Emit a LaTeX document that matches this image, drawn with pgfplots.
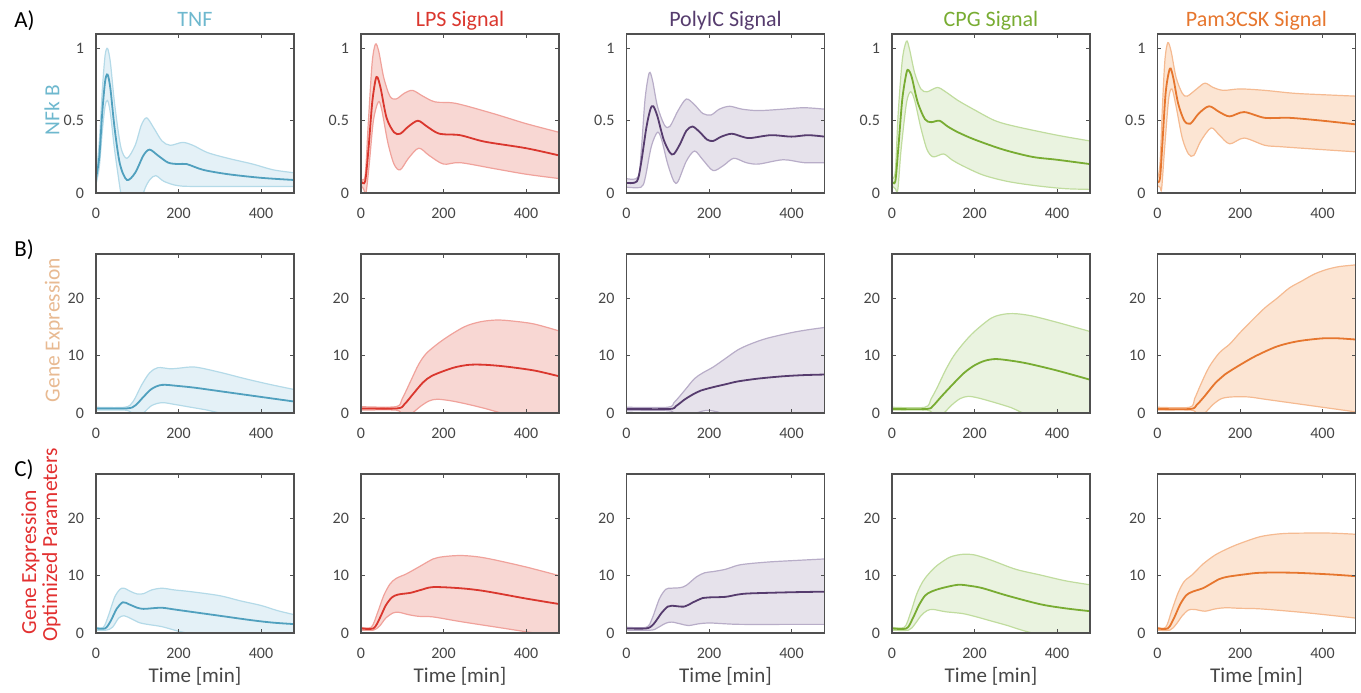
\documentclass[border=0pt]{standalone}
\usepackage{fontspec}
\setmainfont{Carlito}
\usepackage{pgfplots}
\pgfplotsset{compat=1.18}
\usepgfplotslibrary{fillbetween}

% series colours: line, band edge, band fill
\definecolor{tnf}{RGB}{80,160,190}
\definecolor{tnfband}{RGB}{180,218,232}
\definecolor{tnffill}{RGB}{228,241,247}
\definecolor{tnftitle}{RGB}{110,184,206}
\definecolor{lps}{RGB}{218,55,46}
\definecolor{lpsband}{RGB}{240,162,155}
\definecolor{lpsfill}{RGB}{248,215,211}
\definecolor{poly}{RGB}{86,60,110}
\definecolor{polyband}{RGB}{184,173,200}
\definecolor{polyfill}{RGB}{230,226,235}
\definecolor{cpg}{RGB}{120,172,50}
\definecolor{cpgband}{RGB}{192,220,158}
\definecolor{cpgfill}{RGB}{234,243,224}
\definecolor{pam}{RGB}{230,118,46}
\definecolor{pamband}{RGB}{245,186,145}
\definecolor{pamfill}{RGB}{252,229,211}
\definecolor{axgray}{RGB}{80,80,80}
\definecolor{lblgray}{RGB}{70,70,70}
\definecolor{genetan}{RGB}{232,186,146}
\definecolor{optred}{RGB}{226,48,48}

\pgfplotsset{
  panel/.style={
    scale only axis, width=99pt, height=79.5pt,
    xmin=0, xmax=480, ymin=0,
    xtick={0,200,400},
    axis line style={draw=axgray, line width=0.65pt},
    major tick style={draw=axgray, line width=0.5pt},
    major tick length=1.8pt,
    tick label style={font=\fontsize{8}{9.5}\selectfont, text=lblgray},
    xticklabel style={yshift=-4pt},
    yticklabel style={xshift=-2.5pt},
    /pgf/number format/assume math mode=true,
    axis on top,
  },
  rowA/.style={ymax=1.1, ytick={0,0.5,1}},
  rowB/.style={ymax=27.7, ytick={0,10,20}},
}

% #1 left, #2 bottom, #3 colour, #4 row style, #5 mean, #6 upper, #7 lower
\newcommand\panel[7]{%
  \begin{axis}[panel, #4, at={(#1,#2)}]
    \addplot[draw=none, smooth, name path=up] coordinates {#6};
    \addplot[draw=none, smooth, name path=lo] coordinates {#7};
    \addplot[fill=#3fill, draw=none] fill between[of=up and lo];
    \addplot[draw=#3band, line width=0.6pt, smooth] coordinates {#6};
    \addplot[draw=#3band, line width=0.6pt, smooth] coordinates {#7};
    \addplot[draw=#3, line width=0.9pt, smooth] coordinates {#5};
  \end{axis}}

\begin{document}
\begin{tikzpicture}
\path (0,0) rectangle (680.5pt,343.5pt);

% ---------- row A: NFkB ----------
\panel{48pt}{247pt}{tnf}{rowA}
 {(0,0.1) (8,0.25) (15,0.55) (22,0.77) (28,0.82) (35,0.72) (45,0.45) (58,0.2) (75,0.09) (95,0.14) (115,0.26) (130,0.3) (150,0.26) (175,0.21) (200,0.2) (220,0.2) (260,0.16) (320,0.13) (400,0.105) (480,0.09)}
 {(0,0.12) (8,0.35) (15,0.7) (22,0.95) (28,1.0) (35,0.9) (45,0.62) (60,0.32) (75,0.24) (95,0.33) (110,0.47) (123,0.52) (140,0.45) (160,0.36) (180,0.33) (210,0.35) (235,0.33) (270,0.28) (320,0.24) (380,0.2) (430,0.16) (480,0.14)}
 {(0,0.06) (8,0.18) (15,0.42) (22,0.6) (28,0.64) (35,0.55) (45,0.3) (60,0.0) (75,-0.25) (95,-0.25) (115,0.0) (130,0.09) (145,0.12) (165,0.08) (200,0.05) (260,0.045) (480,0.045)}
\panel{180.5pt}{247pt}{lps}{rowA}
 {(0,0.08) (10,0.08) (18,0.3) (27,0.62) (35,0.78) (40,0.8) (48,0.72) (62,0.52) (80,0.42) (95,0.41) (115,0.46) (138,0.5) (160,0.46) (190,0.41) (240,0.4) (300,0.355) (400,0.31) (480,0.26)}
 {(0,0.1) (10,0.12) (18,0.5) (27,0.9) (35,1.03) (43,0.98) (55,0.8) (70,0.67) (85,0.65) (105,0.69) (125,0.71) (150,0.67) (180,0.63) (230,0.62) (320,0.55) (400,0.48) (480,0.42)}
 {(0,0.05) (6,0.03) (12,0.0) (20,0.2) (30,0.5) (42,0.63) (50,0.58) (65,0.35) (80,0.2) (95,0.16) (115,0.24) (140,0.31) (165,0.26) (200,0.2) (240,0.21) (320,0.17) (400,0.13) (480,0.1)}
\panel{313.25pt}{247pt}{poly}{rowA}
 {(0,0.07) (25,0.08) (35,0.2) (48,0.45) (58,0.58) (65,0.6) (75,0.53) (90,0.37) (105,0.28) (115,0.27) (130,0.34) (145,0.43) (160,0.46) (178,0.42) (195,0.37) (210,0.36) (230,0.39) (255,0.41) (280,0.39) (300,0.38) (350,0.4) (400,0.39) (440,0.4) (480,0.39)}
 {(0,0.1) (28,0.11) (36,0.3) (45,0.65) (55,0.83) (63,0.78) (75,0.6) (92,0.47) (105,0.46) (125,0.57) (145,0.65) (165,0.61) (185,0.55) (205,0.54) (225,0.58) (250,0.6) (280,0.58) (320,0.57) (380,0.58) (430,0.59) (480,0.58)}
 {(0,0.04) (35,0.04) (45,0.1) (60,0.32) (75,0.42) (85,0.37) (100,0.2) (115,0.08) (125,0.08) (145,0.22) (165,0.29) (185,0.23) (210,0.155) (235,0.19) (260,0.24) (290,0.21) (320,0.2) (380,0.23) (430,0.21) (480,0.21)}
\panel{446pt}{247pt}{cpg}{rowA}
 {(0,0.08) (8,0.08) (15,0.3) (25,0.65) (35,0.83) (40,0.85) (48,0.8) (62,0.63) (80,0.51) (95,0.49) (115,0.5) (135,0.46) (160,0.42) (200,0.37) (270,0.3) (340,0.25) (400,0.23) (480,0.2)}
 {(0,0.1) (8,0.15) (15,0.55) (25,0.92) (35,1.05) (42,1.0) (55,0.83) (70,0.72) (85,0.7) (110,0.73) (130,0.7) (160,0.64) (200,0.575) (250,0.5) (300,0.46) (400,0.4) (480,0.36)}
 {(0,0.05) (8,0.03) (14,0.02) (22,0.3) (35,0.62) (45,0.7) (55,0.64) (70,0.45) (85,0.3) (100,0.25) (125,0.27) (145,0.23) (170,0.19) (220,0.125) (280,0.08) (350,0.05) (420,0.03) (480,0.025)}
\panel{578.75pt}{247pt}{pam}{rowA}
 {(0,0.08) (6,0.1) (12,0.35) (20,0.7) (30,0.86) (38,0.8) (50,0.62) (65,0.5) (80,0.48) (100,0.55) (125,0.6) (150,0.56) (175,0.53) (210,0.56) (260,0.52) (320,0.52) (400,0.5) (480,0.475)}
 {(0,0.1) (6,0.2) (12,0.6) (18,0.92) (25,1.04) (33,0.98) (45,0.8) (60,0.69) (72,0.67) (95,0.72) (115,0.76) (135,0.73) (160,0.71) (200,0.72) (260,0.71) (330,0.69) (400,0.68) (480,0.67)}
 {(0,0.05) (6,0.04) (10,0.03) (17,0.3) (27,0.65) (35,0.72) (45,0.6) (60,0.38) (75,0.27) (88,0.26) (105,0.36) (130,0.45) (150,0.4) (175,0.34) (210,0.38) (260,0.33) (300,0.32) (400,0.3) (480,0.285)}

% ---------- row B: gene expression ----------
\panel{48pt}{137pt}{tnf}{rowB}
 {(0,0.8) (75,0.8) (95,1.3) (115,2.8) (135,4.2) (160,4.9) (200,4.7) (240,4.4) (300,3.8) (380,3.0) (430,2.5) (480,2.0)}
 {(0,1.0) (70,1.0) (90,2.0) (110,4.8) (130,7.0) (150,7.9) (180,7.7) (200,7.8) (240,8.0) (300,7.1) (360,6.0) (420,5.0) (480,4.1)}
 {(0,0.5) (70,0.5) (85,0.1) (100,-0.5) (115,0.0) (135,1.3) (160,1.8) (190,1.5) (230,1.0) (270,0.5) (300,0.0) (360,-0.8) (480,-2)}
\panel{180.5pt}{137pt}{lps}{rowB}
 {(0,0.8) (88,0.8) (105,1.5) (125,3.2) (150,5.3) (170,6.4) (200,7.3) (230,8.0) (263,8.4) (300,8.4) (350,8.1) (420,7.4) (480,6.4)}
 {(0,1.1) (85,1.1) (100,2.5) (120,5.5) (140,8.5) (160,10.5) (200,12.8) (250,15.0) (290,15.9) (330,16.2) (370,16.0) (420,15.5) (480,14.3)}
 {(0,0.5) (85,0.5) (100,-0.3) (115,-0.6) (125,0.0) (145,1.2) (165,2.1) (185,2.4) (220,2.1) (260,1.5) (300,0.8) (340,0.0) (400,-1) (480,-2)}
\panel{313.25pt}{137pt}{poly}{rowB}
 {(0,0.7) (104,0.7) (120,1.2) (140,2.3) (160,3.2) (180,3.9) (210,4.5) (240,5.0) (270,5.5) (320,6.0) (380,6.4) (430,6.6) (480,6.7)}
 {(0,1.0) (100,1.0) (115,1.8) (130,3.0) (145,4.3) (165,6.0) (185,7.0) (210,8.0) (240,9.5) (270,11.0) (300,12.0) (340,13.0) (400,14.0) (440,14.5) (480,14.9)}
 {(0,0.4) (100,0.4) (115,0.0) (135,-0.5) (160,-0.2) (185,0.35) (200,0.45) (220,0.2) (245,-0.4) (300,-1.5) (400,-3) (480,-4)}
\panel{446pt}{137pt}{cpg}{rowB}
 {(0,0.7) (84,0.7) (100,1.3) (120,2.9) (150,5.2) (175,7.0) (200,8.3) (225,9.1) (252,9.4) (290,9.1) (330,8.6) (400,7.4) (480,5.8)}
 {(0,1.0) (80,1.0) (95,2.5) (110,4.5) (130,7.5) (150,10.0) (175,12.3) (200,14.2) (240,16.5) (270,17.2) (300,17.3) (340,16.9) (400,15.8) (480,14.2)}
 {(0,0.5) (85,0.5) (100,-0.3) (115,-0.5) (126,0.0) (145,1.4) (165,2.5) (185,2.9) (210,2.6) (250,1.8) (290,0.9) (318,0.0) (380,-1.5) (480,-3)}
\panel{578.75pt}{137pt}{pam}{rowB}
 {(0,0.7) (80,0.7) (95,1.4) (115,3.0) (140,5.2) (165,6.8) (180,7.5) (210,8.8) (240,10.0) (290,11.6) (340,12.5) (400,13.0) (440,13.0) (480,12.8)}
 {(0,1.0) (78,1.0) (90,2.5) (105,5.0) (125,8.0) (150,10.5) (175,12.0) (200,14.0) (230,16.2) (260,18.3) (290,20.0) (320,21.8) (350,23.0) (380,24.2) (410,25.0) (440,25.5) (480,25.8)}
 {(0,0.5) (82,0.5) (95,-0.2) (105,-0.4) (115,0.0) (135,1.5) (155,2.5) (180,2.8) (220,2.8) (260,2.4) (300,2.0) (350,1.5) (400,1.0) (440,0.6) (480,0.2)}

% ---------- row C: optimized parameters ----------
\panel{48pt}{27pt}{tnf}{rowB}
 {(0,0.8) (22,0.8) (35,2.0) (50,4.2) (65,5.35) (80,5.0) (100,4.4) (115,4.2) (135,4.3) (160,4.4) (190,4.1) (220,3.8) (300,3.0) (380,2.2) (430,1.8) (480,1.55)}
 {(0,1.0) (18,1.0) (30,3.0) (45,6.2) (58,7.6) (68,7.8) (85,7.2) (100,6.8) (115,6.85) (135,7.5) (160,7.8) (190,7.5) (230,7.2) (300,6.5) (350,5.6) (400,4.8) (440,3.9) (480,3.2)}
 {(0,0.5) (25,0.5) (40,1.0) (55,2.6) (68,3.0) (85,2.5) (105,1.8) (125,1.5) (160,1.1) (200,0.3) (220,0.0) (260,-0.5) (480,-2)}
\panel{180.5pt}{27pt}{lps}{rowB}
 {(0,0.8) (30,0.8) (45,2.5) (60,4.8) (75,6.2) (90,6.7) (120,7.0) (145,7.5) (175,8.0) (240,7.8) (300,7.3) (400,6.0) (480,5.05)}
 {(0,1.0) (25,1.0) (40,3.5) (55,6.5) (70,8.5) (85,9.5) (110,10.3) (140,11.5) (175,12.9) (200,13.3) (240,13.5) (280,13.3) (320,12.8) (400,11.5) (480,10.0)}
 {(0,0.5) (30,0.5) (45,1.2) (60,2.6) (78,3.5) (92,3.6) (115,3.2) (140,2.9) (175,2.8) (240,2.0) (330,1.0) (420,0.0) (480,-0.6)}
\panel{313.25pt}{27pt}{poly}{rowB}
 {(0,0.8) (48,0.8) (65,1.5) (85,3.5) (100,4.6) (110,4.75) (140,4.6) (160,5.3) (185,6.1) (200,6.2) (240,6.3) (270,6.7) (300,6.9) (400,7.1) (480,7.2)}
 {(0,1.0) (48,1.0) (62,2.5) (80,6.0) (95,7.6) (108,7.8) (130,7.9) (145,8.3) (170,9.8) (190,10.5) (210,10.7) (240,11.1) (270,11.8) (300,12.1) (350,12.4) (400,12.6) (480,12.9)}
 {(0,0.5) (60,0.5) (75,0.9) (95,1.7) (110,1.9) (130,1.6) (150,1.3) (175,1.6) (200,1.75) (240,1.6) (280,1.5) (400,1.5) (480,1.5)}
\panel{446pt}{27pt}{cpg}{rowB}
 {(0,0.8) (35,0.8) (50,2.5) (65,4.8) (80,6.5) (95,7.2) (120,7.8) (160,8.4) (190,8.2) (220,7.8) (280,6.5) (360,5.0) (420,4.3) (480,3.8)}
 {(0,1.0) (30,1.0) (45,3.5) (60,6.8) (75,9.0) (90,10.4) (110,11.8) (140,13.2) (170,13.7) (200,13.6) (240,12.7) (300,11.1) (360,10.1) (420,9.1) (480,8.4)}
 {(0,0.5) (40,0.5) (55,1.5) (70,3.0) (85,3.9) (100,4.1) (130,3.7) (170,3.4) (200,2.9) (240,2.1) (280,1.3) (310,0.6) (340,0.0) (400,-1) (480,-2)}
\panel{578.75pt}{27pt}{pam}{rowB}
 {(0,0.8) (25,0.8) (40,2.6) (55,5.0) (70,6.6) (85,7.2) (110,7.8) (130,8.6) (150,9.4) (170,9.8) (210,10.2) (250,10.5) (330,10.5) (420,10.2) (480,9.9)}
 {(0,1.0) (20,1.0) (35,4.0) (50,7.0) (65,9.0) (85,10.2) (110,12.0) (140,13.6) (170,14.7) (200,15.6) (250,16.8) (300,17.3) (350,17.4) (420,17.4) (480,17.2)}
 {(0,0.5) (30,0.5) (45,1.5) (60,3.0) (75,4.0) (90,4.1) (115,3.8) (140,4.2) (165,4.4) (200,4.3) (250,4.2) (350,3.6) (430,3.0) (480,2.6)}

% ---------- titles and labels ----------
\begin{scope}[every node/.style={anchor=base, font=\fontsize{11}{13}\selectfont}]
  \node[text=tnftitle] at (97.5pt,330pt) {TNF};
  \node[text=lps] at (230pt,330pt) {LPS Signal};
  \node[text=poly] at (362.75pt,330pt) {PolyIC Signal};
  \node[text=cpg] at (495.5pt,330pt) {CPG Signal};
  \node[text=pam] at (628.25pt,330pt) {Pam3CSK Signal};
\end{scope}
\begin{scope}[every node/.style={anchor=base, font=\fontsize{10.5}{12}\selectfont, text=lblgray}]
  \node at (97.5pt,2pt) {Time [min]};
  \node at (230pt,2pt) {Time [min]};
  \node at (362.75pt,2pt) {Time [min]};
  \node at (495.5pt,2pt) {Time [min]};
  \node at (628.25pt,2pt) {Time [min]};
\end{scope}
\begin{scope}[every node/.style={anchor=base west, inner sep=0pt, font=\fontsize{11.5}{13}\selectfont}]
  \node at (7pt,329.5pt) {A)};
  \node at (7pt,215pt) {B)};
  \node at (7pt,105pt) {C)};
\end{scope}
\node[rotate=90, text=tnftitle, font=\fontsize{10.75}{12}\selectfont] at (26pt,288.5pt) {NFk B};
\node[rotate=90, text=genetan, font=\fontsize{10.75}{12}\selectfont] at (27pt,178.5pt) {Gene Expression};
\node[rotate=90, text=optred, anchor=base, font=\fontsize{10.75}{12}\selectfont] at (18pt,62.5pt) {Gene Expression};
\node[rotate=90, text=optred, anchor=base, font=\fontsize{10.75}{12}\selectfont] at (28.5pt,71pt) {Optimized Parameters};
\end{tikzpicture}
\end{document}
